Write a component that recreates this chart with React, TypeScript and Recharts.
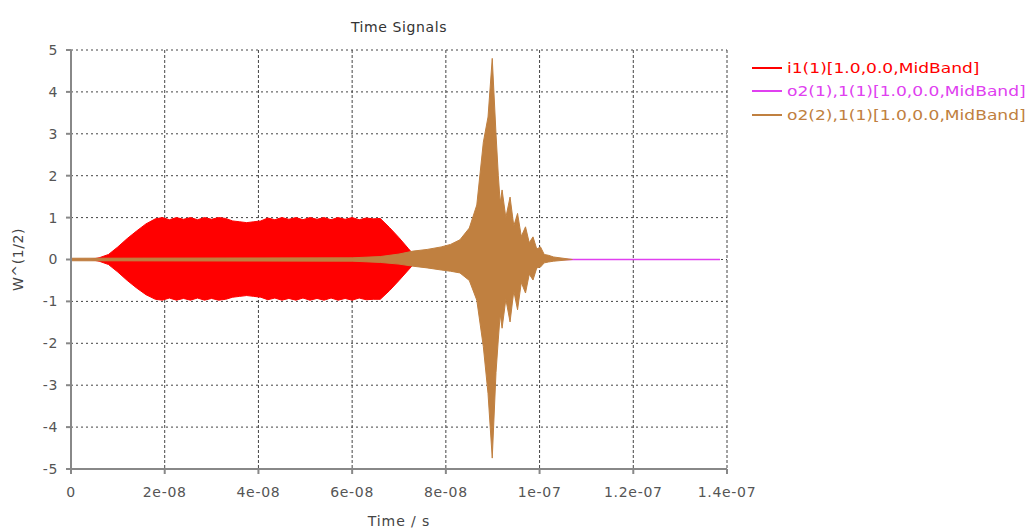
import React from "react";
import {
    ComposedChart,
    Area,
    XAxis,
    YAxis,
    CartesianGrid,
    Legend,
    Label,
} from "recharts";

// time axis in nanoseconds, labels printed in seconds
const X_TICKS = [0, 20, 40, 60, 80, 100, 120, 140];
const X_TICK_LABELS = ["0", "2e-08", "4e-08", "6e-08", "8e-08", "1e-07", "1.2e-07", "1.4e-07"];
const Y_TICKS = [-5, -4, -3, -2, -1, 0, 1, 2, 3, 4, 5];

// i1(1) envelope (upper / lower peak of the carrier)
const inTimes = [
    0, 4, 6, 8, 10, 12, 14, 16, 18, 19.5, 21, 22.5, 24, 25.5, 27, 28.5, 30, 31.5, 33, 34.5,
    36, 37.5, 39, 40.5, 42, 43.5, 45, 46.5, 48, 49.5, 51, 52.5, 54, 55.5, 57, 58.5, 60, 61.5,
    63, 64.5, 66, 68, 70, 72, 74, 138.5,
];
const inHigh = [
    0, 0, 0.04, 0.12, 0.3, 0.5, 0.68, 0.85, 0.97, 1.0, 0.95, 1.0, 0.96, 1.0, 0.95, 1.0, 0.96, 1.0, 0.98, 0.92,
    0.9, 0.88, 0.9, 0.92, 0.99, 0.95, 1.0, 0.96, 1.0, 0.95, 1.0, 0.96, 1.0, 0.95, 1.0, 0.96, 1.0, 0.95,
    0.99, 0.97, 0.98, 0.76, 0.52, 0.26, 0, 0,
];
const inLow = [
    0, 0, -0.04, -0.12, -0.3, -0.5, -0.68, -0.84, -0.95, -0.97, -0.92, -0.97, -0.93, -0.97, -0.92, -0.97, -0.93, -0.97, -0.95, -0.9,
    -0.88, -0.86, -0.88, -0.9, -0.96, -0.92, -0.97, -0.93, -0.97, -0.92, -0.97, -0.93, -0.97, -0.92, -0.97, -0.93, -0.97, -0.92,
    -0.96, -0.95, -0.95, -0.74, -0.5, -0.25, 0, 0,
];

// o2(1),1(1) stays on the zero line
const thruTimes = [0, 138.5];
const thruValues = [0, 0];

// o2(2),1(1) envelope
const outTimes = [
    0, 60, 66, 70, 73, 76, 79, 81, 83, 85, 86.6, 88, 89, 89.9, 90.7, 91.2, 91.6, 92, 92.8, 93.7,
    94.5, 95.3, 96.1, 97, 97.8, 98.6, 99.4, 100.2, 101, 101.9, 103, 105, 107,
];
const outHigh = [
    0.03, 0.04, 0.07, 0.13, 0.2, 0.24, 0.3, 0.36, 0.47, 0.75, 1.3, 2.8, 3.4, 4.8, 3.0, 2.0, 1.35, 1.66, 1.0, 1.49,
    0.8, 1.1, 0.55, 0.78, 0.4, 0.54, 0.25, 0.3, 0.12, 0.1, 0.06, 0.03, 0,
];
const outLow = [
    -0.03, -0.04, -0.07, -0.11, -0.16, -0.2, -0.25, -0.28, -0.32, -0.5, -0.97, -2.08, -3.2, -4.74, -2.7, -1.9, -1.3, -1.64, -0.95, -1.49,
    -0.75, -1.2, -0.55, -0.8, -0.35, -0.49, -0.2, -0.18, -0.08, -0.06, -0.04, -0.02, 0,
];

const SERIES = [
    { name: "i1(1)[1.0,0.0,MidBand]", color: "#ff0000" },
    { name: "o2(1),1(1)[1.0,0.0,MidBand]", color: "#e040f0" },
    { name: "o2(2),1(1)[1.0,0.0,MidBand]", color: "#c08040" },
];

const FONT = "'DejaVu Sans', Verdana, sans-serif";

const inRows = inTimes.map((t, i) => ({ t, band: [inLow[i], inHigh[i]] }));
const thruRows = thruTimes.map((t, i) => ({ t, v: thruValues[i] }));
const outRows = outTimes.map((t, i) => ({ t, band: [outLow[i], outHigh[i]] }));

const renderLegend = () => (
    <div style={{ fontFamily: FONT, fontSize: 14 }}>
        {SERIES.map((s) => (
            <div key={s.name} style={{ display: "flex", alignItems: "center", height: 23.5 }}>
                <span style={{ width: 30, height: 2, background: s.color, marginRight: 5, flex: "none" }} />
                <span
                    style={{
                        color: s.color,
                        whiteSpace: "nowrap",
                        display: "inline-block",
                        transform: "scaleX(1.22)",
                        transformOrigin: "left center",
                    }}
                >
                    {s.name}
                </span>
            </div>
        ))}
    </div>
);

const YTitle = ({ viewBox }: any) => {
    const x = viewBox.x - 3;
    const y = viewBox.y + viewBox.height / 2;
    return (
        <text
            x={x}
            y={y}
            transform={`rotate(-90 ${x} ${y})`}
            textAnchor="middle"
            dominantBaseline="central"
            fill="#444"
            fontSize={14}
            fontFamily={FONT}
            letterSpacing={0.6}
        >
            W^(1/2)
        </text>
    );
};

const tickStyle = { fill: "#555", fontSize: 14, fontFamily: FONT, letterSpacing: 0.7 };

export default function App() {
    return (
        <div style={{ position: "absolute", left: 0, top: 0, width: 1031, height: 530, background: "#fff" }}>
            <div
                style={{
                    position: "absolute",
                    left: 71,
                    width: 656,
                    top: 19,
                    textAlign: "center",
                    fontFamily: FONT,
                    fontSize: 14,
                    letterSpacing: 0.6,
                    color: "#333",
                }}
            >
                Time Signals
            </div>
            <ComposedChart width={1031} height={530} margin={{ top: 50, right: 304, bottom: 0, left: 21 }}>
                <CartesianGrid horizontal vertical={false} stroke="#444" strokeDasharray="2 3" />
                <CartesianGrid horizontal={false} vertical stroke="#444" strokeDasharray="3 2" />
                <XAxis
                    dataKey="t"
                    type="number"
                    domain={[0, 140]}
                    ticks={X_TICKS}
                    tickFormatter={(v: number) => X_TICK_LABELS[X_TICKS.indexOf(v)]}
                    height={61}
                    stroke="#888"
                    strokeWidth={2}
                    tickSize={5}
                    tickMargin={13}
                    tick={tickStyle}
                    allowDataOverflow
                >
                    <Label value="Time / s" position="insideBottom" offset={4} fill="#444" fontSize={14} fontFamily={FONT} letterSpacing={0.9} />
                </XAxis>
                <XAxis xAxisId="top" orientation="top" type="number" domain={[0, 140]} height={0} tick={false} tickLine={false} stroke="#888" strokeWidth={1.5} />
                <YAxis
                    type="number"
                    domain={[-5, 5]}
                    ticks={Y_TICKS}
                    width={50}
                    stroke="#888"
                    strokeWidth={2}
                    tickSize={5}
                    tickMargin={8}
                    tick={tickStyle}
                    interval={0}
                    allowDataOverflow
                >
                    <Label content={YTitle} />
                </YAxis>
                <YAxis yAxisId="right" orientation="right" domain={[-5, 5]} width={0} tick={false} tickLine={false} stroke="#888" strokeWidth={1.5} />
                <Legend
                    layout="horizontal"
                    verticalAlign="middle"
                    content={renderLegend}
                    wrapperStyle={{ left: 752, top: 56, width: 279 }}
                />
                <Area
                    data={inRows}
                    dataKey="band"
                    name={SERIES[0].name}
                    type="linear"
                    stroke={SERIES[0].color}
                    fill={SERIES[0].color}
                    fillOpacity={1}
                    strokeWidth={1}
                    dot={false}
                    activeDot={false}
                    isAnimationActive={false}
                />
                {/* drawn as an unfilled Area so it stays under the o2(2) band */}
                <Area
                    data={thruRows}
                    dataKey="v"
                    name={SERIES[1].name}
                    type="linear"
                    stroke={SERIES[1].color}
                    fill="none"
                    strokeWidth={1.5}
                    dot={false}
                    activeDot={false}
                    isAnimationActive={false}
                />
                <Area
                    data={outRows}
                    dataKey="band"
                    name={SERIES[2].name}
                    type="linear"
                    stroke={SERIES[2].color}
                    fill={SERIES[2].color}
                    fillOpacity={1}
                    strokeWidth={1}
                    dot={false}
                    activeDot={false}
                    isAnimationActive={false}
                />
            </ComposedChart>
        </div>
    );
}
